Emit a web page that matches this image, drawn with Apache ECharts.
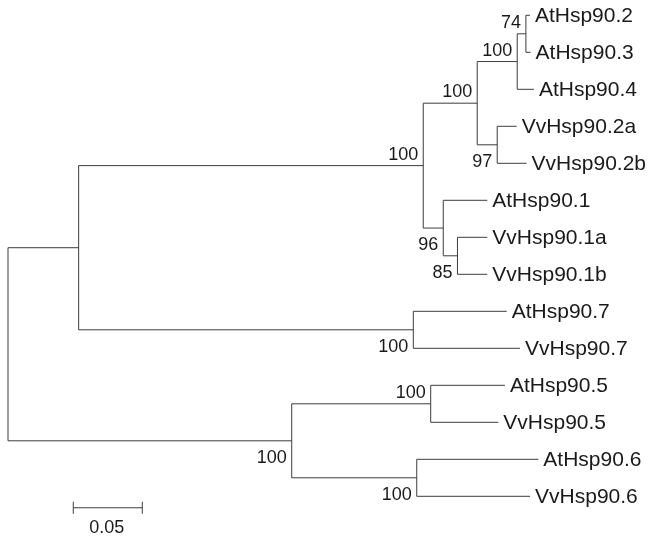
<!DOCTYPE html>
<html>
<head>
<meta charset="utf-8">
<script src="https://cdn.jsdelivr.net/npm/echarts@6/dist/echarts.min.js"></script>
<style>
  html, body { margin: 0; padding: 0; background: #fff; }
  #tree { width: 651px; height: 537px; }
</style>
</head>
<body>
<div id="tree"></div>
<script>
// leaves, top to bottom, with their parent node and branch length
const taxa = ['AtHsp90.2', 'AtHsp90.3', 'AtHsp90.4', 'VvHsp90.2a', 'VvHsp90.2b', 'AtHsp90.1', 'VvHsp90.1a',
  'VvHsp90.1b', 'AtHsp90.7', 'VvHsp90.7', 'AtHsp90.5', 'VvHsp90.5', 'AtHsp90.6', 'VvHsp90.6']
const taxonParent = ['I', 'I', 'H', 'J', 'J', 'K', 'L', 'L', 'C', 'C', 'E', 'E', 'F', 'F']
const taxonBranch = [0.0029, 0.0034, 0.0121, 0.0141, 0.0213, 0.0319, 0.0216, 0.0216, 0.0677, 0.0773,
  0.0538, 0.0490, 0.0881, 0.0821]

// internal nodes, bootstrap values
const nodeNames = ['root', 'A', 'B', 'G', 'H', 'I', 'J', 'K', 'L', 'C', 'D', 'E', 'F']
const nodeParent = [null, 'root', 'A', 'B', 'G', 'H', 'G', 'B', 'K', 'A', 'root', 'D', 'D']
const nodeBranch = [0, 0.0512, 0.2497, 0.0391, 0.0290, 0.0063, 0.0145, 0.0145, 0.0103, 0.2425, 0.2056, 0.1007, 0.0906]
const bootstrap = [null, null, 100, 100, 100, 74, 97, 96, 85, 100, 100, 100, 100]

const scaleLength = 0.05
const scaleLabel = '0.05'

// build the tree
let nodes = {}
nodeNames.forEach((n, i) => {
  nodes[n] = { name: n, parent: nodeParent[i], len: nodeBranch[i], support: bootstrap[i], children: [], leaf: false }
})
taxa.forEach((t, i) => {
  nodes[t] = { name: t, parent: taxonParent[i], len: taxonBranch[i], children: [], leaf: true, y: i }
})
nodeNames.concat(taxa).forEach(n => {
  let p = nodes[n].parent
  if (p) nodes[p].children.push(n)
})
function place (n, x) {
  let node = nodes[n]
  node.x = x + node.len
  node.children.forEach(c => place(c, node.x))
  if (!node.leaf) {
    let ys = node.children.map(c => nodes[c].y)
    node.top = Math.min(...ys)
    node.bottom = Math.max(...ys)
    node.y = (node.top + node.bottom) / 2
  }
}
place('root', 0)

let items = []
nodeNames.concat(taxa).forEach(n => {
  let node = nodes[n]
  let par = node.parent ? nodes[node.parent] : null
  let px = par ? par.x : node.x
  // upper child of its parent -> support label above the branch
  let upper = par ? node.y < par.y : true
  items.push({
    value: [node.x, node.y, px, node.leaf ? node.y : node.top, node.leaf ? node.y : node.bottom],
    name: node.leaf ? node.name : (node.support == null ? '' : String(node.support)),
    leaf: node.leaf,
    upper: upper
  })
})

const LINE = '#3c3c3c'
const FONT = 'Arial, "Liberation Sans", sans-serif'

let myChart = echarts.init(document.getElementById('tree'))
myChart.setOption({
  animation: false,
  grid: { left: 8, top: 15.3, width: 552, height: 518 },
  xAxis: { type: 'value', min: 0, max: 0.4, show: false },
  yAxis: { type: 'value', min: 0, max: 14, inverse: true, show: false },
  series: [
    {
      type: 'custom',
      clip: false,
      data: items,
      renderItem (params, api) {
        let it = items[params.dataIndex]
        let p = api.coord([it.value[0], it.value[1]])
        let pp = api.coord([it.value[2], it.value[1]])
        let t = api.coord([it.value[0], it.value[3]])
        let b = api.coord([it.value[0], it.value[4]])
        let children = [
          { type: 'line', shape: { x1: pp[0], y1: p[1], x2: p[0], y2: p[1] }, style: { stroke: LINE, lineWidth: 1 } }
        ]
        if (!it.leaf) {
          children.push({ type: 'line', shape: { x1: p[0], y1: t[1], x2: p[0], y2: b[1] }, style: { stroke: LINE, lineWidth: 1 } })
        }
        if (it.leaf) {
          children.push({
            type: 'text',
            style: { x: p[0] + 5, y: p[1] + 1, text: it.name, fill: '#1a1a1a', font: '21px ' + FONT, align: 'left', verticalAlign: 'middle' }
          })
        } else if (it.name) {
          children.push({
            type: 'text',
            style: {
              x: p[0] - 5,
              y: it.upper ? p[1] - 2 : p[1] + 8,
              text: it.name,
              fill: '#1a1a1a',
              font: '18px ' + FONT,
              align: 'right',
              verticalAlign: it.upper ? 'bottom' : 'top'
            }
          })
        }
        return { type: 'group', children: children }
      }
    },
    {
      // scale bar
      type: 'custom',
      clip: false,
      data: [[0.0473, 13.31]],
      renderItem (params, api) {
        let s = api.coord([0.0473, 13.31])
        let e = api.coord([0.0473 + scaleLength, 13.31])
        return {
          type: 'group',
          children: [
            { type: 'line', shape: { x1: s[0], y1: s[1], x2: e[0], y2: e[1] }, style: { stroke: LINE, lineWidth: 1 } },
            { type: 'line', shape: { x1: s[0], y1: s[1] - 6, x2: s[0], y2: s[1] + 6 }, style: { stroke: LINE, lineWidth: 1 } },
            { type: 'line', shape: { x1: e[0], y1: e[1] - 6, x2: e[0], y2: e[1] + 6 }, style: { stroke: LINE, lineWidth: 1 } },
            {
              type: 'text',
              style: { x: (s[0] + e[0]) / 2 - 1, y: s[1] + 11, text: scaleLabel, fill: '#1a1a1a', font: '18px ' + FONT, align: 'center', verticalAlign: 'top' }
            }
          ]
        }
      }
    }
  ]
})
</script>
</body>
</html>
